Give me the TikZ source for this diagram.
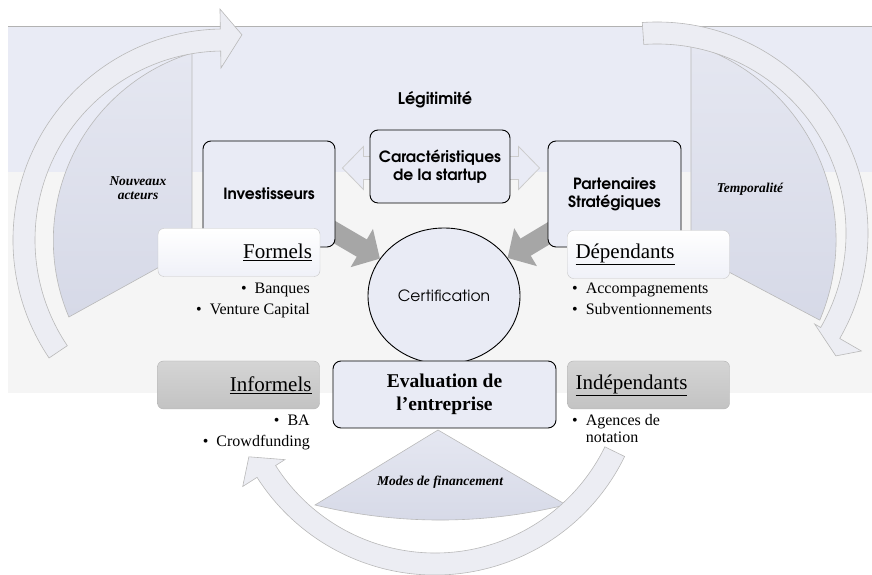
\documentclass[tikz,border=0pt]{standalone}
\usepackage{fontspec}
\setmainfont{Liberation Serif}
\newfontfamily\gothic{texgyreadventor}[Extension=.otf, UprightFont=*-regular, BoldFont=*-bold]
\usetikzlibrary{calc,arrows.meta,backgrounds,shapes.geometric}

\definecolor{lavband}{RGB}{233,235,245}
\definecolor{paleband}{RGB}{245,245,245}
\definecolor{wedgetop}{RGB}{229,231,241}
\definecolor{wedgebot}{RGB}{214,217,231}
\definecolor{turnfill}{RGB}{236,237,243}
\definecolor{feedgray}{RGB}{166,166,166}
\definecolor{taggray}{RGB}{205,205,205}

\tikzset{
  keybox/.style    = {draw=black, line width=0.9pt, rounded corners=8pt, fill=lavband,
                      align=center, font=\gothic\bfseries\fontsize{15.5}{18}\selectfont},
  certif/.style    = {ellipse, draw=black, line width=0.9pt, fill=lavband,
                      minimum width=152pt, minimum height=136pt,
                      font=\gothic\fontsize{15.5}{18}\selectfont},
  evalbox/.style   = {draw=black, line width=0.9pt, rounded corners=8pt, fill=lavband,
                      minimum width=223pt, minimum height=67pt, align=center,
                      font=\bfseries\fontsize{19.5}{23}\selectfont},
  tagbox/.style    = {draw=gray!45, rounded corners=6pt, text width=146pt, inner sep=8pt,
                      minimum height=48pt, font=\fontsize{21}{24}\selectfont},
  lighttag/.style  = {tagbox, top color=white, bottom color=lavband!70!white},
  darktag/.style   = {tagbox, draw=gray!60, top color=taggray!85!white, bottom color=taggray!95!black},
  itemlist/.style  = {inner sep=0pt, font=\fontsize{16}{21}\selectfont},
  wedgelabel/.style= {align=center, font=\bfseries\itshape\fontsize{13.5}{14}\selectfont},
  wedge/.style     = {draw=gray!55, line width=0.6pt, top color=wedgetop, bottom color=wedgebot},
  turnarrow/.style = {draw=gray!55, line width=0.6pt, fill=turnfill},
  feed/.style      = {draw=feedgray, line width=20pt, shorten <=-14pt,
                      -{Triangle[length=21pt,width=43pt]}},
  hollow/.style    = {draw=gray!40, line width=0.8pt, fill=lavband}
}

\begin{document}
\begin{tikzpicture}[x=1pt, y=1pt]
  \useasboundingbox (0,0) rectangle (872,575);

  \node[keybox, minimum width=132pt, minimum height=106pt] (inv)  at (269,381)   {Investisseurs};
  \node[keybox, minimum width=140pt, minimum height=73pt]  (car)  at (440,408.5) {Caractéristiques\\de la startup};
  \node[keybox, minimum width=133pt, minimum height=106pt] (part) at (614.5,381) {Partenaires\\Stratégiques};
  \node[certif]  (cert) at (444,279)     {Certification};
  \node[evalbox] (eval) at (444.5,180.5) {Evaluation de\\l’entreprise};

  \node[font=\gothic\bfseries\fontsize{16}{18}\selectfont] (legit) at (435,475) {Légitimité};

  \node[lighttag, align=right] (form)   at (239,322.5)   {\underline{Formels}};
  \node[lighttag, align=left]  (dep)    at (648.5,320.5) {\underline{Dépendants}};
  \node[darktag,  align=right] (inform) at (238.5,190)   {\underline{Informels}};
  \node[darktag,  align=left]  (indep)  at (648.5,190)   {\underline{Indépendants}};

  \node[itemlist, align=right, anchor=north east] (lform)   at (310,292.5)
       {\textbullet\enspace Banques\\\textbullet\enspace Venture Capital};
  \node[itemlist, align=left,  anchor=north west] (ldep)    at (572,292.5)
       {\textbullet\enspace Accompagnements\\\textbullet\enspace Subventionnements};
  \node[itemlist, align=right, anchor=north east] (linform) at (310,160.5)
       {\textbullet\enspace BA\\\textbullet\enspace Crowdfunding};
  \node[itemlist, align=left,  anchor=north west] (lindep)  at (572,160.5)
       {\textbullet\enspace Agences de\\[-4pt]\phantom{\textbullet\enspace}notation};

  \node[wedgelabel] (nouv)  at (138,387) {Nouveaux\\acteurs};
  \node[wedgelabel] (temp)  at (750,386) {Temporalité};
  \node[wedgelabel] (modes) at (440,93)  {Modes de financement};

  \begin{pgfonlayer}{background}
    \fill[paleband] (8,182) rectangle (872,403);
    \fill[lavband]  (8,403) rectangle (872,549);
    \draw[gray!60]  (8,549) -- (872,549);

    \draw[wedge] (192,326) -- (192,522) arc[start angle=107,   end angle=203,   radius=196] -- cycle;
    \draw[wedge] (691,323) -- (691,531) arc[start angle=73,    end angle=-23,   radius=205] -- cycle;
    \draw[wedge] (438,145) -- (315,70)  arc[start angle=256.3, end angle=283.8, radius=528] -- cycle;

    \coordinate (cl) at (224,335);
    \coordinate (cr) at (657,342);
    \coordinate (cb) at (435,211);
    \draw[turnarrow] ($(cl)+(214:211)$) arc[start angle=214, end angle=91, radius=211]
                     -- ($(cl)+(91:231)$) -- ($(cl)+(85:206)$) -- ($(cl)+(91:172)$)
                     -- ($(cl)+(91:189)$) arc[start angle=91, end angle=214, radius=189] -- cycle;
    \draw[turnarrow] ($(cr)+(94:211)$) arc[start angle=94, end angle=-30, radius=211]
                     -- ($(cr)+(-30:236)$) -- ($(cr)+(-34.5:217)$) -- ($(cr)+(-30:182)$)
                     -- ($(cr)+(-30:189)$) arc[start angle=-30, end angle=94, radius=189] -- cycle;
    \draw[turnarrow] ($(cb)+(-26:211)$) arc[start angle=-26, end angle=-147.5, radius=211]
                     -- ($(cb)+(-147.5:228)$) -- ($(cb)+(-153.5:208)$) -- ($(cb)+(-147.5:178)$)
                     -- ($(cb)+(-147.5:189)$) arc[start angle=-147.5, end angle=-26, radius=189] -- cycle;

    \path (inv.east |- car) ++(7,-1.5)   coordinate (hl);
    \path (part.west |- car) ++(-8,-1.5) coordinate (hr);
    \draw[hollow] (hl) -- ++(21,21.5) -- ++(0,-10) -- ($(hr)+(-21,11.5)$) -- ++(0,10)
                  -- (hr) -- ++(-21,-21.5) -- ++(0,10) -- ($(hl)+(21,-11.5)$) -- ++(0,-10) -- cycle;

    \draw[feed] (inv)  -- (cert);
    \draw[feed] (part) -- (cert);
  \end{pgfonlayer}
\end{tikzpicture}
\end{document}
